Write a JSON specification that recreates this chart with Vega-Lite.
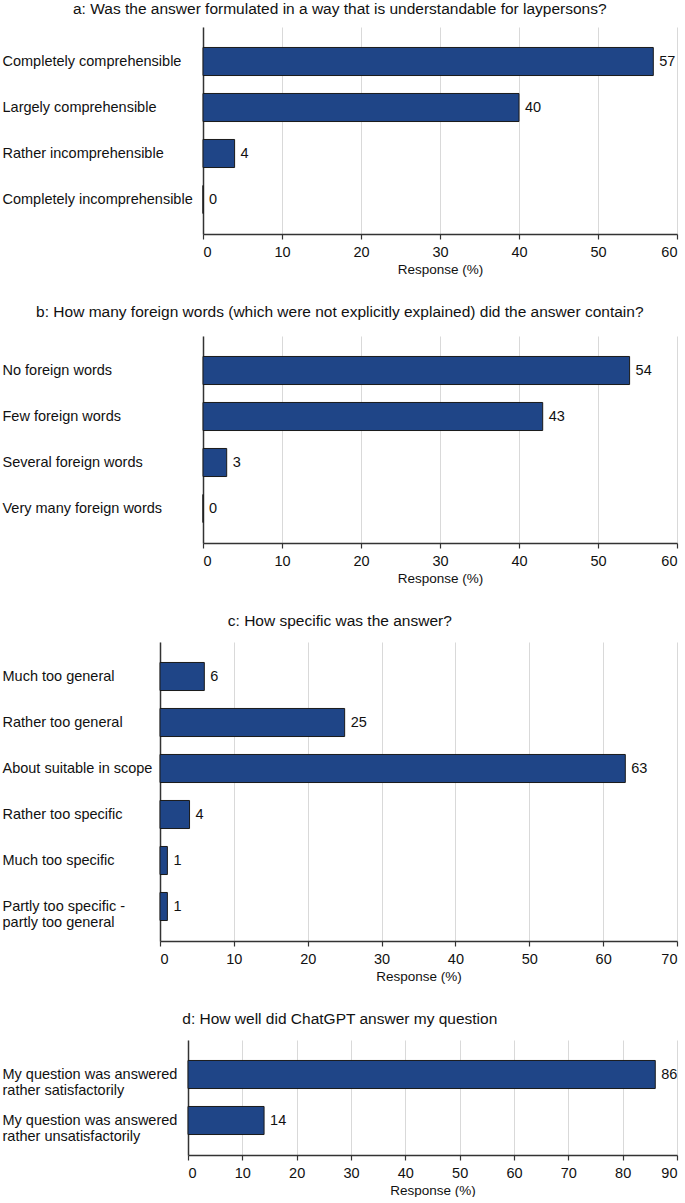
{
  "$schema": "https://vega.github.io/schema/vega-lite/v6.json",
  "padding": {"left": 2, "top": 1, "right": 6, "bottom": 0},
  "spacing": 28,
  "background": "white",
  "config": {
    "font": "Liberation Sans",
    "view": {"stroke": null},
    "title": {"fontSize": 15.5, "fontWeight": "normal", "anchor": "middle", "frame": "bounds", "offset": 10, "color": "#111"},
    "axisY": {"domainColor": "#333", "domainWidth": 1.5, "ticks": false, "labelAlign": "left", "labelFontSize": 14.5, "labelColor": "#111", "grid": false, "labelLineHeight": 16, "labelLimit": 400},
    "axisX": {"grid": true, "gridColor": "#d9d9d9", "domainColor": "#333", "domainWidth": 1.5, "tickColor": "#333", "tickSize": 5, "tickWidth": 1.2, "labelFontSize": 14.5, "labelColor": "#111", "labelPadding": 6, "titleFontSize": 13.5, "titleFontWeight": "normal", "titleColor": "#111", "titlePadding": 4}
  },
  "datasets": {
    "a": [
      {"category": "Completely comprehensible", "value": 57},
      {"category": "Largely comprehensible", "value": 40},
      {"category": "Rather incomprehensible", "value": 4},
      {"category": "Completely incomprehensible", "value": 0}
    ],
    "b": [
      {"category": "No foreign words", "value": 54},
      {"category": "Few foreign words", "value": 43},
      {"category": "Several foreign words", "value": 3},
      {"category": "Very many foreign words", "value": 0}
    ],
    "c": [
      {"category": "Much too general", "value": 6},
      {"category": "Rather too general", "value": 25},
      {"category": "About suitable in scope", "value": 63},
      {"category": "Rather too specific", "value": 4},
      {"category": "Much too specific", "value": 1},
      {"category": "Partly too specific - partly too general", "value": 1}
    ],
    "d": [
      {"category": "My question was answered rather satisfactorily", "value": 86},
      {"category": "My question was answered rather unsatisfactorily", "value": 14}
    ]
  },
  "vconcat": [
    {
      "title": {"text": "a: Was the answer formulated in a way that is understandable for laypersons?", "offset": 10},
      "data": {"name": "a"},
      "width": 517,
      "height": {"step": 46},
      "encoding": {
        "y": {"field": "category", "type": "nominal", "sort": null, "title": null, "scale": {"paddingInner": 0.39, "paddingOuter": 0.445}, "axis": {"offset": -43, "labelPadding": 201}},
        "x": {"field": "value", "type": "quantitative", "title": "Response (%)", "scale": {"domain": [0, 60], "range": [43, 517]}, "axis": {"values": [0, 10, 20, 30, 40, 50, 60]}}
      },
      "layer": [
        {"mark": {"type": "bar", "color": "#1f4587", "stroke": "#1a1a1a", "strokeWidth": 1}},
        {"mark": {"type": "text", "align": "left", "dx": 6, "fontSize": 14.5, "color": "#111"}, "encoding": {"text": {"field": "value", "type": "quantitative"}}}
      ]
    },
    {
      "title": {"text": "b: How many foreign words (which were not explicitly explained) did the answer contain?", "offset": 16},
      "data": {"name": "b"},
      "width": 517,
      "height": {"step": 46},
      "encoding": {
        "y": {"field": "category", "type": "nominal", "sort": null, "title": null, "scale": {"paddingInner": 0.39, "paddingOuter": 0.445}, "axis": {"offset": -43, "labelPadding": 201}},
        "x": {"field": "value", "type": "quantitative", "title": "Response (%)", "scale": {"domain": [0, 60], "range": [43, 517]}, "axis": {"values": [0, 10, 20, 30, 40, 50, 60]}}
      },
      "layer": [
        {"mark": {"type": "bar", "color": "#1f4587", "stroke": "#1a1a1a", "strokeWidth": 1}},
        {"mark": {"type": "text", "align": "left", "dx": 6, "fontSize": 14.5, "color": "#111"}, "encoding": {"text": {"field": "value", "type": "quantitative"}}}
      ]
    },
    {
      "title": {"text": "c: How specific was the answer?", "offset": 13},
      "data": {"name": "c"},
      "width": 517,
      "height": {"step": 46},
      "encoding": {
        "y": {"field": "category", "type": "nominal", "sort": null, "title": null, "scale": {"paddingInner": 0.39, "paddingOuter": 0.445}, "axis": {"labelPadding": 158, "labelExpr": "datum.value == 'Partly too specific - partly too general' ? ['Partly too specific -', 'partly too general'] : datum.label"}},
        "x": {"field": "value", "type": "quantitative", "title": "Response (%)", "scale": {"domain": [0, 70]}, "axis": {"values": [0, 10, 20, 30, 40, 50, 60, 70]}}
      },
      "layer": [
        {"mark": {"type": "bar", "color": "#1f4587", "stroke": "#1a1a1a", "strokeWidth": 1}},
        {"mark": {"type": "text", "align": "left", "dx": 6, "fontSize": 14.5, "color": "#111"}, "encoding": {"text": {"field": "value", "type": "quantitative"}}}
      ]
    },
    {
      "title": {"text": "d: How well did ChatGPT answer my question", "offset": 13},
      "data": {"name": "d"},
      "width": 517,
      "height": {"step": 46},
      "encoding": {
        "y": {"field": "category", "type": "nominal", "sort": null, "title": null, "scale": {"paddingInner": 0.39, "paddingOuter": 0.445}, "axis": {"offset": -28, "labelPadding": 186, "labelExpr": "datum.value == 'My question was answered rather satisfactorily' ? ['My question was answered', 'rather satisfactorily'] : ['My question was answered', 'rather unsatisfactorily']"}},
        "x": {"field": "value", "type": "quantitative", "title": "Response (%)", "scale": {"domain": [0, 90], "range": [28, 517]}, "axis": {"values": [0, 10, 20, 30, 40, 50, 60, 70, 80, 90]}}
      },
      "layer": [
        {"mark": {"type": "bar", "color": "#1f4587", "stroke": "#1a1a1a", "strokeWidth": 1}},
        {"mark": {"type": "text", "align": "left", "dx": 6, "fontSize": 14.5, "color": "#111"}, "encoding": {"text": {"field": "value", "type": "quantitative"}}}
      ]
    }
  ]
}
